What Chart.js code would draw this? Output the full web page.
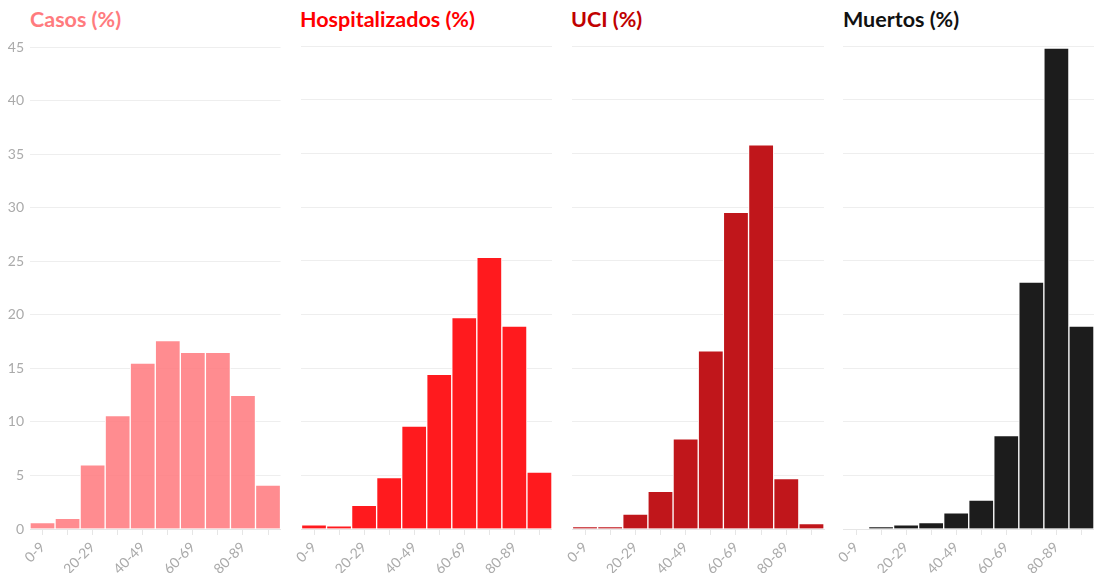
<!DOCTYPE html>
<html>
<head>
<meta charset="utf-8">
<script src="https://cdn.jsdelivr.net/npm/chart.js@4"></script>
<style>
  body { margin: 0; background: #fff; overflow: hidden; }
  #wrap { position: relative; width: 1094px; height: 573px; overflow: hidden; font-family: Lato, "Noto Sans", sans-serif; }
  .title { position: absolute; top: 6px; font-size: 21.5px; font-weight: bold; }
  .panel { position: absolute; top: 33px; height: 540px; }
</style>
</head>
<body>
<div id="wrap"></div>
<script>
const ageGroups = ["0-9", "10-19", "20-29", "30-39", "40-49", "50-59", "60-69", "70-79", "80-89", "90+"];
const casos = [0.6, 1.0, 6.0, 10.6, 15.5, 17.6, 16.5, 16.5, 12.5, 4.1];
const hospitalizados = [0.4, 0.3, 2.2, 4.8, 9.6, 14.4, 19.7, 25.3, 18.9, 5.3];
const uci = [0.2, 0.2, 1.4, 3.5, 8.4, 16.6, 29.5, 35.8, 4.7, 0.5];
const muertos = [0.0, 0.2, 0.4, 0.6, 1.5, 2.7, 8.7, 23.0, 44.8, 18.9];

const panels = [
  { title: "Casos (%)", data: casos, color: "rgba(255,120,124,0.85)", titleColor: "#ff7b7e", left: 0, width: 284, axisW: 30, titleLeft: 30, padTop: 10, padRight: 2 },
  { title: "Hospitalizados (%)", data: hospitalizados, color: "#ff1a1e", titleColor: "#ff0000", left: 295, width: 260, axisW: 0, titleLeft: 300, padTop: 13, padRight: 0 },
  { title: "UCI (%)", data: uci, color: "#c0161b", titleColor: "#c00000", left: 566, width: 261, axisW: 0, titleLeft: 571, padTop: 13, padRight: 0 },
  { title: "Muertos (%)", data: muertos, color: "#1c1c1c", titleColor: "#111111", left: 837, width: 260, axisW: 0, titleLeft: 843, padTop: 13, padRight: 0 }
];

const wrap = document.getElementById("wrap");

panels.forEach(p => {
  const t = document.createElement("div");
  t.className = "title";
  t.style.left = p.titleLeft + "px";
  t.style.color = p.titleColor;
  t.innerText = p.title;
  wrap.appendChild(t);

  const box = document.createElement("div");
  box.className = "panel";
  box.style.left = p.left + "px";
  box.style.width = p.width + "px";
  const cv = document.createElement("canvas");
  box.appendChild(cv);
  wrap.appendChild(box);

  new Chart(cv, {
    type: "bar",
    data: {
      labels: ageGroups,
      datasets: [{ data: p.data, backgroundColor: p.color, borderColor: "#ffffff", borderWidth: 1, categoryPercentage: 1, barPercentage: 1 }]
    },
    options: {
      responsive: true,
      maintainAspectRatio: false,
      animation: false,
      layout: { padding: { top: p.padTop, right: p.padRight, left: 0, bottom: 0 } },
      plugins: { legend: { display: false }, tooltip: { enabled: false } },
      scales: {
        x: {
          grid: { offset: false, drawOnChartArea: false, drawTicks: true, tickLength: 6, color: "#e6e6e6" },
          border: { color: "#e6e6e6" },
          ticks: {
            autoSkip: false, maxRotation: 45, minRotation: 45, color: "#aaaaaa", padding: 4,
            font: { family: "Lato", size: 14 },
            callback: (v, i) => i % 2 === 0 ? ageGroups[i] : ""
          },
          afterFit: s => { s.height = 44; }
        },
        y: {
          min: 0, max: 45,
          grid: { color: "#eeeeee", drawTicks: false },
          border: { display: false },
          ticks: { stepSize: 5, display: p.axisW > 0, color: "#aaaaaa", padding: 6, font: { family: "Lato", size: 14 } },
          afterFit: s => { s.width = p.axisW; }
        }
      }
    }
  });
});
</script>
</body>
</html>
